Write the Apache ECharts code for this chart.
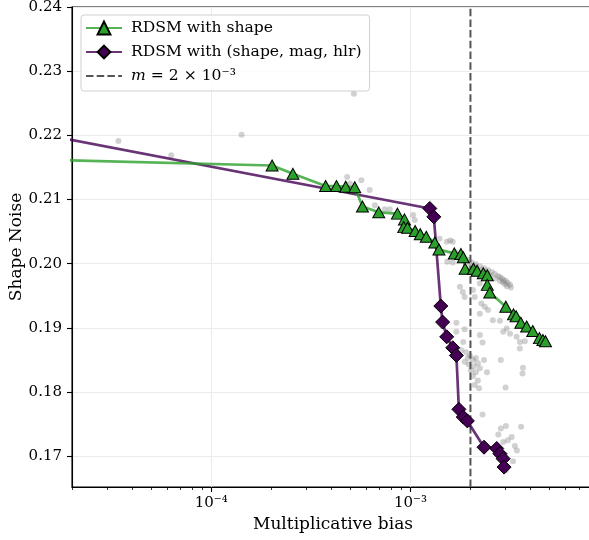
<!DOCTYPE html>
<html><head><meta charset="utf-8">
<script src="https://cdn.jsdelivr.net/npm/echarts@6/dist/echarts.min.js"></script>
<style>html,body{margin:0;padding:0;background:#fff}#c{width:589px;height:540px}</style>
</head><body><div id="c"></div>
<script>
// ---- data ----
const shapeBias = [1.5e-5, 2.02e-4, 2.57e-4, 3.75e-4, 4.25e-4, 4.73e-4, 5.25e-4, 5.74e-4, 6.93e-4, 8.60e-4, 9.33e-4, 9.25e-4, 9.66e-4, 1.055e-3, 1.12e-3, 1.20e-3, 1.325e-3, 1.39e-3, 1.66e-3, 1.79e-3, 1.84e-3, 1.88e-3, 2.07e-3, 2.16e-3, 2.32e-3, 2.43e-3, 2.43e-3, 2.50e-3, 3.01e-3, 3.29e-3, 3.39e-3, 3.58e-3, 3.83e-3, 4.11e-3, 4.44e-3, 4.62e-3, 4.76e-3];
const shapeNoise = [0.2162, 0.2153, 0.2140, 0.2121, 0.2121, 0.2120, 0.2119, 0.2089, 0.2080, 0.2078, 0.2069, 0.2057, 0.2056, 0.2051, 0.2046, 0.2042, 0.2033, 0.2022, 0.2016, 0.2015, 0.2010, 0.1992, 0.1992, 0.1989, 0.1985, 0.1982, 0.1967, 0.1955, 0.1933, 0.1921, 0.1918, 0.1908, 0.1902, 0.1895, 0.1884, 0.1881, 0.1879];
const fullBias = [1.5e-5, 1.25e-3, 1.31e-3, 1.42e-3, 1.45e-3, 1.52e-3, 1.63e-3, 1.70e-3, 1.75e-3, 1.84e-3, 1.93e-3, 2.34e-3, 2.71e-3, 2.81e-3, 2.92e-3, 2.95e-3];
const fullNoise = [0.2200, 0.2086, 0.2073, 0.1934, 0.1909, 0.1886, 0.1869, 0.1857, 0.1773, 0.1761, 0.1755, 0.1714, 0.1712, 0.1704, 0.1696, 0.1683];
const cloudBias = [3.42e-5, 6.3e-5, 1.42e-4, 5.2e-4, 4.81e-4, 4.96e-4, 5.67e-4, 6.24e-4, 6.62e-4, 7.43e-4, 7.87e-4, 1.03e-3, 1.05e-3, 1.40e-3, 1.52e-3, 1.58e-3, 1.63e-3, 1.53e-3, 1.63e-3, 1.69e-3,
  1.94e-3, 2.03e-3, 2.13e-3, 2.23e-3, 2.34e-3, 2.45e-3, 2.56e-3, 2.65e-3, 2.75e-3, 2.81e-3, 2.88e-3, 2.94e-3, 3.01e-3, 3.08e-3, 3.16e-3, 3.19e-3, 2.98e-3, 2.81e-3, 2.65e-3, 2.50e-3, 2.36e-3, 2.23e-3, 2.10e-3, 1.99e-3, 3.05e-3, 2.91e-3,
  1.77e-3, 1.83e-3, 1.87e-3, 2.06e-3, 2.10e-3, 2.23e-3, 2.27e-3, 2.36e-3, 2.45e-3, 2.23e-3, 2.59e-3, 2.81e-3, 2.92e-3, 3.04e-3, 3.16e-3, 3.41e-3, 3.54e-3, 3.75e-3, 3.54e-3, 3.67e-3, 3.65e-3, 2.84e-3, 3.00e-3, 2.21e-3, 2.30e-3, 1.70e-3, 1.87e-3, 1.70e-3, 1.84e-3, 2.23e-3, 2.30e-3, 1.80e-3,
  1.90e-3, 1.99e-3, 2.06e-3, 2.13e-3, 1.96e-3, 2.08e-3, 2.18e-3, 2.01e-3, 2.13e-3, 2.23e-3, 2.06e-3, 2.18e-3, 1.94e-3, 1.87e-3, 2.34e-3, 2.42e-3, 2.10e-3,
  2.84e-3, 3.01e-3, 3.59e-3, 2.76e-3, 2.92e-3, 3.22e-3, 3.34e-3, 3.08e-3, 2.98e-3, 3.01e-3, 3.42e-3, 3.27e-3];
const cloudNoise = [0.2191, 0.2169, 0.2201, 0.2265, 0.2135, 0.2125, 0.2130, 0.2115, 0.2091, 0.2085, 0.2085, 0.2076, 0.2068, 0.2039, 0.2034, 0.2036, 0.2034, 0.2003, 0.2002, 0.2018,
  0.2006, 0.2002, 0.1999, 0.1996, 0.1993, 0.1990, 0.1987, 0.1984, 0.1981, 0.1979, 0.1977, 0.1974, 0.1973, 0.1970, 0.1967, 0.1963, 0.1968, 0.1973, 0.1977, 0.1982, 0.1987, 0.1990, 0.1996, 0.1999, 0.1965, 0.1971,
  0.1964, 0.1956, 0.1948, 0.1959, 0.1948, 0.1969, 0.1938, 0.1933, 0.1928, 0.1922, 0.1912, 0.1911, 0.1894, 0.1899, 0.1891, 0.1886, 0.1878, 0.1879, 0.1868, 0.1838, 0.1829, 0.1850, 0.1807, 0.1806, 0.1765, 0.1908, 0.1898, 0.1894, 0.1878, 0.1889, 0.1877, 0.1865,
  0.1862, 0.1856, 0.1850, 0.1853, 0.1843, 0.1840, 0.1845, 0.1834, 0.1831, 0.1837, 0.1825, 0.1818, 0.1853, 0.1847, 0.1850, 0.1831, 0.1811,
  0.1743, 0.1747, 0.1746, 0.1734, 0.1722, 0.1730, 0.1716, 0.1725, 0.1702, 0.1678, 0.1709, 0.1692];
const biasThreshold = 2e-3;
const xMajorTicks = [1e-4, 1e-3];
const xMinorTicks = [2e-5, 3e-5, 4e-5, 5e-5, 6e-5, 7e-5, 8e-5, 9e-5, 2e-4, 3e-4, 4e-4, 5e-4, 6e-4, 7e-4, 8e-4, 9e-4, 2e-3, 3e-3, 4e-3, 5e-3, 6e-3, 7e-3, 8e-3];
const yTicks = [0.17, 0.18, 0.19, 0.20, 0.21, 0.22, 0.23, 0.24];
const xRange = [2e-5, 8.34e-3];
const yRange = [0.1652, 0.24];
const seriesNames = ['RDSM with shape', 'RDSM with (shape, mag, hlr)', 'm = 2 × 10⁻³'];

// ---- chart ----
const zip = (a, b) => a.map((v, i) => [v, b[i]]);
const sup = {'-': '⁻', '0': '⁰', '1': '¹', '2': '²', '3': '³', '4': '⁴', '5': '⁵', '6': '⁶', '7': '⁷', '8': '⁸', '9': '⁹'};
const pow10Label = v => '10' + String(Math.round(Math.log10(v))).split('').map(c => sup[c]).join('');
const FONT = 'DejaVu Serif';
const DASH = [7.5, 3.2];

const chart = echarts.init(document.getElementById('c'), null, {renderer: 'canvas'});
chart.setOption({
  animation: false,
  backgroundColor: '#fff',
  grid: {left: 72, top: 7, right: -5, bottom: 53, show: true, borderColor: '#000', borderWidth: 1.1, backgroundColor: 'transparent', outerBoundsMode: 'none', containLabel: false},
  xAxis: [{
    type: 'log', logBase: 10, min: xRange[0], max: xRange[1],
    name: 'Multiplicative bias', nameLocation: 'middle', nameGap: 28,
    nameTextStyle: {fontFamily: FONT, fontSize: 17, color: '#000'},
    axisLine: {show: true, lineStyle: {color: '#000', width: 1.1}},
    axisTick: {show: true, length: 5, lineStyle: {color: '#000', width: 1.1}, customValues: xMajorTicks},
    axisLabel: {customValues: xMajorTicks, formatter: pow10Label, fontFamily: FONT, fontSize: 15, color: '#000', margin: 9},
    splitLine: {show: true, lineStyle: {color: '#ebebeb', width: 1}},
    minorTick: {show: false}, minorSplitLine: {show: false}
  }, {
    type: 'log', logBase: 10, min: xRange[0], max: xRange[1], position: 'bottom',
    axisLine: {show: false},
    axisTick: {show: true, length: 3, lineStyle: {color: '#000', width: 0.8}, customValues: xMinorTicks},
    axisLabel: {show: false},
    splitLine: {show: false}
  }],
  yAxis: {
    type: 'value', min: yRange[0], max: yRange[1],
    name: 'Shape Noise', nameLocation: 'middle', nameGap: 47, nameRotate: 90, nameMoveOverlap: false,
    nameTextStyle: {fontFamily: FONT, fontSize: 17, color: '#000'},
    axisLine: {show: true, lineStyle: {color: '#000', width: 1.1}},
    axisTick: {show: true, length: 5, lineStyle: {color: '#000', width: 1.1}, customValues: yTicks},
    axisLabel: {customValues: yTicks, formatter: v => v.toFixed(2), fontFamily: FONT, fontSize: 15, color: '#000', margin: 10},
    splitLine: {show: true, lineStyle: {color: '#ebebeb', width: 1}}
  },
  legend: {
    orient: 'vertical', left: 81, top: 15,
    padding: [5, 8, 7, 4], itemGap: 8, itemWidth: 36, itemHeight: 16,
    backgroundColor: 'rgba(255,255,255,0.85)', borderColor: '#d0d0d0', borderWidth: 1, borderRadius: 3,
    data: [seriesNames[0], seriesNames[1], {name: seriesNames[2], itemStyle: {opacity: 0}}],
    formatter: name => name === seriesNames[2] ? '{i|m} = 2 × 10⁻³' : name,
    textStyle: {fontFamily: FONT, fontSize: 15.6, color: '#000', padding: [0, 0, 0, 4],
      rich: {i: {fontFamily: FONT, fontStyle: 'italic', fontSize: 15.6, color: '#000'}}}
  },
  series: [{
    name: 'cloud', type: 'scatter', data: zip(cloudBias, cloudNoise), symbolSize: 6, silent: true, z: 1,
    itemStyle: {color: 'rgba(128,128,128,0.45)'}
  }, {
    name: seriesNames[2], type: 'line', z: 2, symbol: 'none', showSymbol: false, silent: true,
    data: [[biasThreshold, yRange[0]], [biasThreshold, yRange[1]]],
    lineStyle: {color: '#555', width: 2, type: DASH}, itemStyle: {color: '#555'}
  }, {
    name: seriesNames[1], type: 'line', data: zip(fullBias, fullNoise), z: 3,
    symbol: 'diamond', symbolSize: 14,
    lineStyle: {color: 'rgba(68,1,84,0.8)', width: 2.7},
    itemStyle: {color: '#440154', borderColor: '#000', borderWidth: 1}
  }, {
    name: seriesNames[0], type: 'line', data: zip(shapeBias, shapeNoise), z: 4,
    symbol: 'triangle', symbolSize: [12, 11],
    lineStyle: {color: 'rgba(44,160,44,0.8)', width: 2.7},
    itemStyle: {color: '#2ca02c', borderColor: '#000', borderWidth: 1}
  }]
});
</script></body></html>
